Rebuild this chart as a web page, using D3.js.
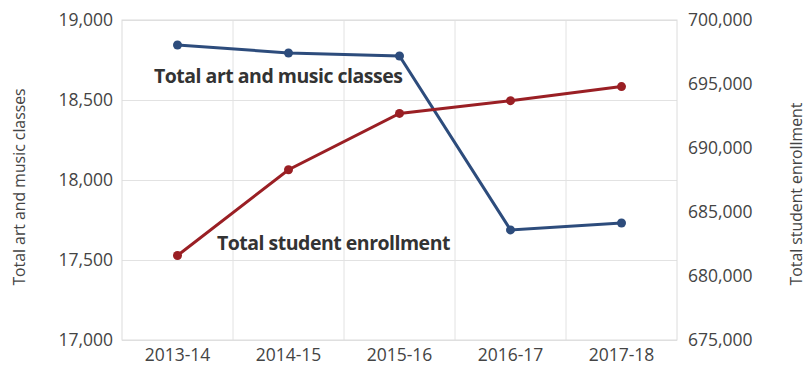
<!DOCTYPE html>
<html>
<head>
<meta charset="utf-8">
<script src="https://cdn.jsdelivr.net/npm/d3@7"></script>
<style>
  body { margin: 0; background: #fff; }
  .tick text { font-family: "Open Sans", sans-serif; fill: #444; }
  .axisText { font-family: "Open Sans", sans-serif; font-size: 15.8px; fill: #444; }
  .lineLabel { font-family: "Open Sans", sans-serif; font-weight: bold; font-size: 19.5px; fill: #333; letter-spacing: -0.5px; }
  .grid line { stroke: #e2e2e2; }
  .grid path { stroke: none; }
</style>
</head>
<body>
<div id="chart"></div>
<script>
// data
var years = ["2013-14", "2014-15", "2015-16", "2016-17", "2017-18"];
var classes = [18844, 18794, 18775, 17688, 17731];
var enrollment = [681600, 688300, 692700, 693700, 694800];
var leftTicks = [17000, 17500, 18000, 18500, 19000];
var rightTicks = [675000, 680000, 685000, 690000, 695000, 700000];

var margin = { top: 20, right: 132, bottom: 41, left: 122 },
    width = 809 - margin.left - margin.right,
    height = 381 - margin.top - margin.bottom;

var svg = d3.select("#chart")
    .append("svg")
    .attr("width", 809)
    .attr("height", 381)
    .append("g")
    .attr("transform", "translate(" + margin.left + "," + margin.top + ")");

var x = d3.scaleBand().domain(years).range([0, width]);
var yL = d3.scaleLinear().domain([17000, 19000]).range([height, 0]);
var yR = d3.scaleLinear().domain([675000, 700000]).range([height, 0]);

// gridlines
svg.append("g")
    .attr("class", "grid")
    .call(d3.axisLeft(yL).tickValues(leftTicks).tickSize(-width).tickFormat(""));
svg.append("g")
    .attr("class", "grid")
    .selectAll("line")
    .data(years.slice(1))
    .enter()
    .append("line")
    .attr("x1", function (d) { return x(d); })
    .attr("x2", function (d) { return x(d); })
    .attr("y1", 0)
    .attr("y2", height);

// frame
svg.append("rect")
    .attr("width", width)
    .attr("height", height)
    .style("fill", "none")
    .style("stroke", "#dcdcdc");

// axes
var fmt = d3.format(",");
var left = svg.append("g")
    .call(d3.axisLeft(yL).tickValues(leftTicks).tickFormat(fmt).tickSize(0).tickPadding(9));
var right = svg.append("g")
    .attr("transform", "translate(" + width + ",0)")
    .call(d3.axisRight(yR).tickValues(rightTicks).tickFormat(fmt).tickSize(0).tickPadding(11));
var bottom = svg.append("g")
    .attr("transform", "translate(0," + height + ")")
    .call(d3.axisBottom(x).tickSize(0).tickPadding(9));
[left, right, bottom].forEach(function (a) {
    a.select(".domain").remove();
    a.selectAll("text").style("font-size", "17.5px");
});

// axis titles
svg.append("text")
    .attr("class", "axisText")
    .attr("transform", "rotate(-90)")
    .attr("x", -167)
    .attr("y", -margin.left + 25)
    .style("text-anchor", "middle")
    .text("Total art and music classes");
svg.append("text")
    .attr("class", "axisText")
    .attr("transform", "rotate(-90)")
    .attr("x", -174)
    .attr("y", width + 125)
    .style("text-anchor", "middle")
    .text("Total student enrollment");

// lines
var blue = "#2d4c7c", red = "#9a1f24";
var cx = function (i) { return x(years[i]) + x.bandwidth() / 2; };

svg.append("path")
    .datum(classes)
    .attr("d", d3.line().x(function (d, i) { return cx(i); }).y(function (d) { return yL(d); }))
    .style("fill", "none")
    .style("stroke", blue)
    .style("stroke-width", 3);
svg.selectAll("bdot")
    .data(classes)
    .enter()
    .append("circle")
    .attr("cx", function (d, i) { return cx(i); })
    .attr("cy", function (d) { return yL(d); })
    .attr("r", 4.5)
    .style("fill", blue);

svg.append("path")
    .datum(enrollment)
    .attr("d", d3.line().x(function (d, i) { return cx(i); }).y(function (d) { return yR(d); }))
    .style("fill", "none")
    .style("stroke", red)
    .style("stroke-width", 3);
svg.selectAll("rdot")
    .data(enrollment)
    .enter()
    .append("circle")
    .attr("cx", function (d, i) { return cx(i); })
    .attr("cy", function (d) { return yR(d); })
    .attr("r", 4.5)
    .style("fill", red);

// line labels
svg.append("text")
    .attr("class", "lineLabel")
    .attr("x", 32)
    .attr("y", 63)
    .text("Total art and music classes");
svg.append("text")
    .attr("class", "lineLabel")
    .attr("x", 95)
    .attr("y", 230)
    .text("Total student enrollment");
</script>
</body>
</html>
